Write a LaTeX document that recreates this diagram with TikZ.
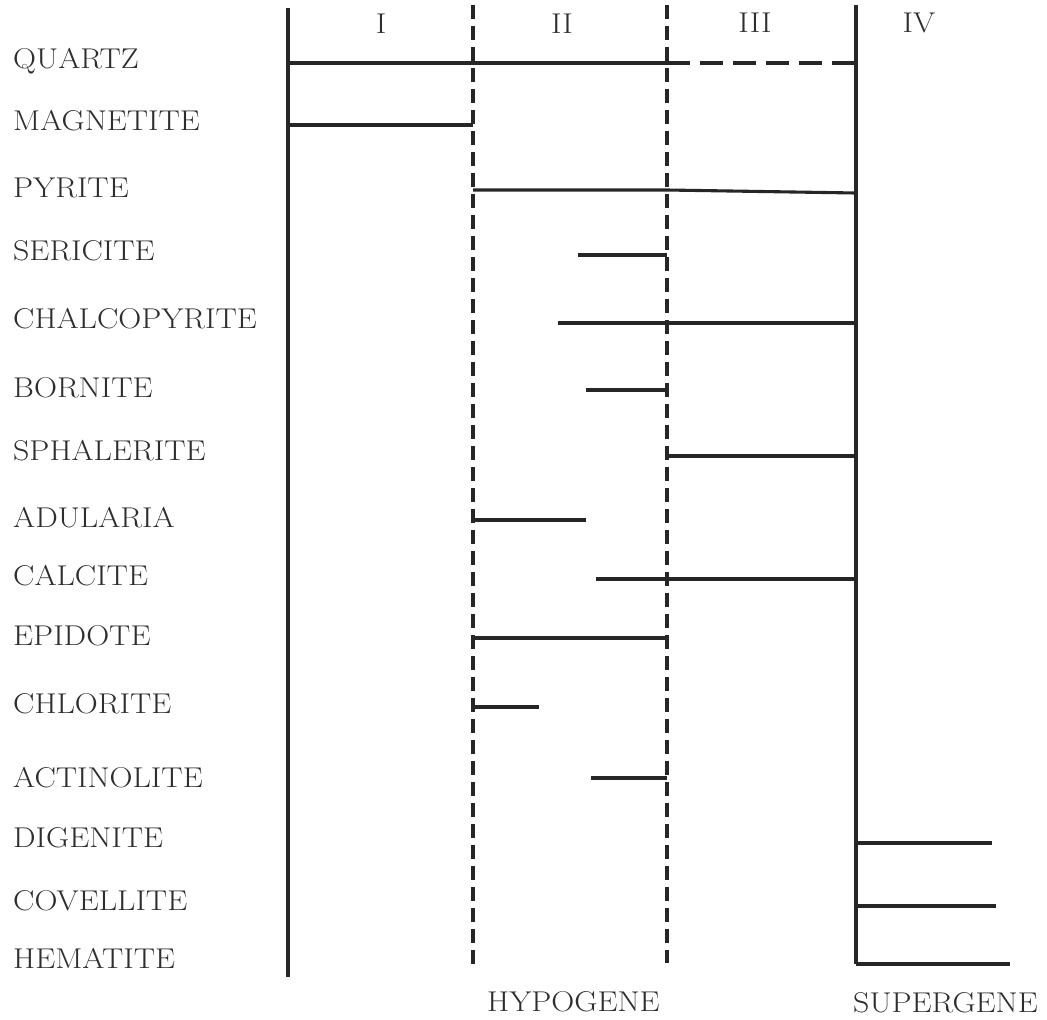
\documentclass[tikz,border=0pt]{standalone}
\usepackage{fontspec}
\usepackage{graphicx}
\newcommand\stretchtxt[1]{\scalebox{1.115}[1]{#1}}
\tikzset{
  lbl/.style={anchor=base west, inner sep=0pt, text=black!82,
    font=\fontsize{28.6}{31}\selectfont},
  hdr/.style={anchor=base, inner sep=0pt, text=black!82,
    font=\fontsize{28.6}{31}\selectfont},
  bar/.style={line width=3.1pt, draw=black!85},
  solidv/.style={line width=3.3pt, draw=black!85},
  dashv/.style={line width=3.3pt, draw=black!85, dash pattern=on 14pt off 7pt},
  dashh/.style={line width=3.1pt, draw=black!85, dash pattern=on 23pt off 10pt},
}
\begin{document}
\begin{tikzpicture}[x=1pt,y=-1pt]
\useasboundingbox (0,0) rectangle (1047,1020);
% column boundaries
\coordinate (v1t) at (288,8);   \coordinate (v1b) at (288,977);
\coordinate (v2t) at (473,5);   \coordinate (v2b) at (473,970);
\coordinate (v3t) at (667,5);   \coordinate (v3b) at (667,963);
\coordinate (v4t) at (856,5);   \coordinate (v4b) at (856,964);
\draw[solidv] (v1t) -- (v1b);
\draw[dashv] (v2t) -- (v2b);
\draw[dashv] (v3t) -- (v3b);
\draw[solidv] (v4t) -- (v4b);
% stage headers
\node[hdr] (h1) at (381,33) {\stretchtxt{I}};
\node[hdr] (h2) at (562,33) {\stretchtxt{II}};
\node[hdr] (h3) at (755,32) {\stretchtxt{III}};
\node[hdr] (h4) at (919,32) {\stretchtxt{IV}};
% mineral labels
\node[lbl] (quartz) at (13,68) {\stretchtxt{QUARTZ}};
\node[lbl] (magnetite) at (13,130) {\stretchtxt{MAGNETITE}};
\node[lbl] (pyrite) at (13,197) {\stretchtxt{PYRITE}};
\node[lbl] (sericite) at (13,260) {\stretchtxt{SERICITE}};
\node[lbl] (chalco) at (13,328) {\stretchtxt{CHALCOPYRITE}};
\node[lbl] (bornite) at (13,397) {\stretchtxt{BORNITE}};
\node[lbl] (sphal) at (13,460) {\stretchtxt{SPHALERITE}};
\node[lbl] (adul) at (13,527) {\stretchtxt{ADULARIA}};
\node[lbl] (calcite) at (13,585) {\stretchtxt{CALCITE}};
\node[lbl] (epidote) at (13,645) {\stretchtxt{EPIDOTE}};
\node[lbl] (chlorite) at (13,713) {\stretchtxt{CHLORITE}};
\node[lbl] (actino) at (13,787) {\stretchtxt{ACTINOLITE}};
\node[lbl] (digenite) at (13,847) {\stretchtxt{DIGENITE}};
\node[lbl] (covellite) at (13,910) {\stretchtxt{COVELLITE}};
\node[lbl] (hematite) at (13,968) {\stretchtxt{HEMATITE}};
% bottom labels
\node[lbl] (hypo) at (487,1011) {\stretchtxt{HYPOGENE}};
\node[lbl] (super) at (853,1012) {\stretchtxt{SUPERGENE}};
% range bars
\draw[bar] (288,63) -- (667,63);
\draw[dashh] (667,63) -- (856,63);
\draw[bar] (288,125) -- (473,125);
\draw[bar] (473,190) -- (667,190) -- (856,193);
\draw[bar] (578,255) -- (667,255);
\draw[bar] (558,323) -- (856,323);
\draw[bar] (586,390) -- (667,390);
\draw[bar] (667,456) -- (856,456);
\draw[bar] (473,520) -- (586,520);
\draw[bar] (596,579) -- (856,579);
\draw[bar] (473,638) -- (667,638);
\draw[bar] (473,707) -- (539,707);
\draw[bar] (591,778) -- (667,778);
\draw[bar] (856,843) -- (992,843);
\draw[bar] (856,906) -- (996,906);
\draw[bar] (856,964) -- (1010,964);
\end{tikzpicture}
\end{document}
